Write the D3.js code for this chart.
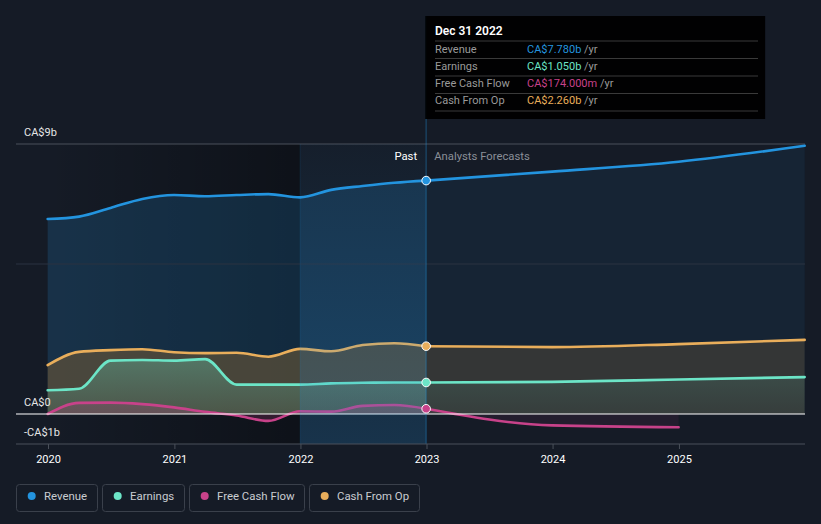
<!DOCTYPE html>
<html>
<head>
<meta charset="utf-8">
<script src="https://cdn.jsdelivr.net/npm/d3@7"></script>
<style>
  html, body { margin: 0; padding: 0; background: #151b26; }
  svg { display: block; font-family: Roboto, "Noto Sans", sans-serif; }
</style>
</head>
<body>
<svg id="chart" width="821" height="524"></svg>
<script>
// ---------- DATA ----------
const pastDates = ["2019-12-31","2020-03-31","2020-06-30","2020-09-30","2020-12-31","2021-03-31","2021-06-30","2021-09-30","2021-12-31","2022-03-31","2022-06-30","2022-09-30","2022-12-31"];
const revenuePast  = [6.50, 6.58, 6.87, 7.17, 7.30, 7.26, 7.30, 7.33, 7.22, 7.47, 7.60, 7.71, 7.78];
const earningsPast = [0.79, 0.84, 1.78, 1.80, 1.78, 1.83, 0.98, 0.98, 0.98, 1.02, 1.04, 1.05, 1.05];
const fcfPast      = [0.00, 0.37, 0.38, 0.33, 0.22, 0.07, -0.05, -0.23, 0.09, 0.08, 0.27, 0.30, 0.174];
const cfoPast      = [1.63, 2.07, 2.13, 2.16, 2.06, 2.03, 2.04, 1.91, 2.17, 2.09, 2.30, 2.36, 2.26];

const forecastDates = ["2022-12-31","2023-12-31","2024-12-31","2025-12-31"];
const revenueFc  = [7.78, 8.08, 8.41, 8.94];
const earningsFc = [1.05, 1.07, 1.15, 1.23];
const cfoFc      = [2.26, 2.23, 2.33, 2.47];
const fcfFc      = [0.174, -0.38, -0.44];

const seriesNames  = ["Revenue", "Earnings", "Free Cash Flow", "Cash From Op"];
const seriesColors = ["#2394df", "#6ce5c7", "#c8428a", "#e9ae5b"];
const tooltipDate  = "Dec 31 2022";
const tooltipValues = ["CA$7.780b", "CA$1.050b", "CA$174.000m", "CA$2.260b"];
const yLabelValues = [9, 0, -1];
const yLabels = ["CA$9b", "CA$0", "-CA$1b"];
const gridValues = [9, 5];
const xTickYears = [2020, 2021, 2022, 2023, 2024, 2025];

// ---------- SETUP ----------
const parse = d3.timeParse("%Y-%m-%d");
const svg = d3.select("#chart");
const x = d3.scaleTime().domain([new Date(2020,0,1), new Date(2026,0,1)]).range([48, 805]);
const y = d3.scaleLinear().domain([-1, 9]).range([444, 144]);
const xNow = x(parse("2022-12-31"));
const xHiStart = x(parse("2021-12-31"));

const mk = (dates, vals) => vals.map((v,i) => ({d: parse(dates[i]), v}));
const past = {
  rev: mk(pastDates, revenuePast), earn: mk(pastDates, earningsPast),
  fcf: mk(pastDates, fcfPast), cfo: mk(pastDates, cfoPast)
};
const fc = {
  rev: mk(forecastDates, revenueFc), earn: mk(forecastDates, earningsFc),
  fcf: mk(forecastDates, fcfFc), cfo: mk(forecastDates, cfoFc)
};

const defs = svg.append("defs");
const darkGrad = defs.append("linearGradient").attr("id","darkGrad").attr("x1",0).attr("x2",1).attr("y1",0).attr("y2",0);
darkGrad.append("stop").attr("offset",0).attr("stop-color","#000").attr("stop-opacity",0);
darkGrad.append("stop").attr("offset",1).attr("stop-color","#000").attr("stop-opacity",0.35);
const hiGrad = defs.append("linearGradient").attr("id","hiGrad").attr("x1",0).attr("x2",0).attr("y1",0).attr("y2",1);
hiGrad.append("stop").attr("offset",0).attr("stop-color","#2394df").attr("stop-opacity",0.03);
hiGrad.append("stop").attr("offset",1).attr("stop-color","#2394df").attr("stop-opacity",0.2);
function vGrad(id, color, top, bottom) {
  const g = defs.append("linearGradient").attr("id",id).attr("x1",0).attr("x2",0).attr("y1",0).attr("y2",1);
  g.append("stop").attr("offset",0).attr("stop-color",color).attr("stop-opacity",top);
  g.append("stop").attr("offset",1).attr("stop-color",color).attr("stop-opacity",bottom);
}
vGrad("earnPast", "#6ce5c7", 0.3, 0.1);
vGrad("earnFc", "#6ce5c7", 0.12, 0.04);

// background
svg.append("rect").attr("width",821).attr("height",524).attr("fill","#151b26");
svg.append("rect").attr("x",x(new Date(2020,0,1))).attr("y",y(9)).attr("width",xHiStart - x(new Date(2020,0,1))).attr("height",y(-1)-y(9)).attr("fill","url(#darkGrad)");

const curve = d3.curveMonotoneX;
const area = d3.area().x(d=>x(d.d)).y0(y(0)).y1(d=>y(d.v)).curve(curve);
const line = d3.line().x(d=>x(d.d)).y(d=>y(d.v)).curve(curve);

// areas
const gA = svg.append("g");
gA.append("path").datum(past.rev).attr("d",area).attr("fill","#2394df").attr("fill-opacity",0.19);
gA.append("path").datum(fc.rev).attr("d",area).attr("fill","#2394df").attr("fill-opacity",0.08);
gA.append("path").datum(past.cfo).attr("d",area).attr("fill","rgb(105,85,55)").attr("fill-opacity",0.62);
gA.append("path").datum(fc.cfo).attr("d",area).attr("fill","rgb(82,71,55)").attr("fill-opacity",0.5);
gA.append("path").datum(past.earn).attr("d",area).attr("fill","url(#earnPast)");
gA.append("path").datum(fc.earn).attr("d",area).attr("fill","url(#earnFc)");
gA.append("path").datum(past.fcf).attr("d",area).attr("fill","#c8428a").attr("fill-opacity",0.2);
gA.append("path").datum(fc.fcf).attr("d",area).attr("fill","#c8428a").attr("fill-opacity",0.08);

// grid lines
svg.append("g").selectAll("line").data(gridValues).join("line")
  .attr("x1",16).attr("x2",805).attr("y1",d=>y(d)).attr("y2",d=>y(d))
  .attr("stroke",(d,i)=> i===0 ? "#4a505a" : "#2a3340").attr("stroke-width",1);

// lines
const keys = ["rev","earn","fcf","cfo"];
const gL = svg.append("g").attr("fill","none").attr("stroke-width",2.6).attr("stroke-linecap","round");
keys.forEach((k,i) => {
  gL.append("path").datum(past[k]).attr("d",line).attr("stroke",seriesColors[i]);
  gL.append("path").datum(fc[k]).attr("d",line).attr("stroke",seriesColors[i]);
});

// zero line
svg.append("line").attr("x1",16).attr("x2",805).attr("y1",y(0)).attr("y2",y(0)).attr("stroke","#ffffff").attr("stroke-width",1.2);

// highlight of last past year
svg.append("rect").attr("x",xHiStart).attr("y",y(9)).attr("width",xNow - xHiStart).attr("height",y(-1)-y(9)).attr("fill","url(#hiGrad)");
svg.append("line").attr("x1",xHiStart).attr("x2",xHiStart).attr("y1",y(9)).attr("y2",y(-1)).attr("stroke","#2394df").attr("stroke-opacity",0.12);

// tooltip vertical line
svg.append("line").attr("x1",xNow).attr("x2",xNow).attr("y1",16).attr("y2",y(-1)).attr("stroke","#2394df").attr("stroke-opacity",0.3).attr("stroke-width",1.5);

// Past / Forecast labels
svg.append("text").attr("x",xNow-9).attr("y",160).attr("text-anchor","end").attr("fill","#ffffff").attr("font-size",11.3).text("Past");
svg.append("text").attr("x",xNow+8).attr("y",160).attr("fill","#8a8f98").attr("font-size",11.3).text("Analysts Forecasts");

// dots
const nowVals = [revenuePast, earningsPast, fcfPast, cfoPast].map(a => a[a.length-1]);
svg.append("g").selectAll("circle").data(nowVals).join("circle")
  .attr("cx",xNow).attr("cy",d=>y(d)).attr("r",4.3)
  .attr("fill",(d,i)=>seriesColors[i]).attr("stroke","#ffffff").attr("stroke-width",1);

// y labels
svg.append("g").selectAll("text").data(yLabelValues).join("text")
  .attr("x",24).attr("y",d=>y(d)-8).attr("fill","#e6e6e6").attr("font-size",11).text((d,i)=>yLabels[i]);

// x axis
const xAxis = d3.axisBottom(x).tickValues(xTickYears.map(yy=>new Date(yy,0,1))).tickFormat(d3.timeFormat("%Y")).tickSize(5).tickPadding(6);
const gx = svg.append("g").attr("transform",`translate(0,${y(-1)})`).call(xAxis);
gx.select(".domain").remove();
gx.selectAll(".tick line").attr("stroke","#4a505a");
gx.selectAll(".tick text").attr("fill","#ffffff").attr("font-size",11).attr("font-family","Roboto, sans-serif");
svg.append("line").attr("x1",16).attr("x2",805).attr("y1",y(-1)).attr("y2",y(-1)).attr("stroke","#4a505a");

// tooltip
const tt = svg.append("g");
tt.append("rect").attr("x",xNow-1).attr("y",16).attr("width",340).attr("height",103).attr("fill","#000000").attr("fill-opacity",0.95);
tt.append("text").attr("x",435).attr("y",35).attr("fill","#ffffff").attr("font-size",12).attr("font-weight",600).text(tooltipDate);
const rowY = [52.5, 69.5, 87, 104];
const sepY = [41, 58.5, 76, 93.5, 111];
tt.selectAll("line.sep").data(sepY).join("line").attr("class","sep")
  .attr("x1",435).attr("x2",758).attr("y1",d=>d).attr("y2",d=>d).attr("stroke","#3a3a3a");
seriesNames.forEach((n,i) => {
  tt.append("text").attr("x",435).attr("y",rowY[i]).attr("fill","#9a9a9a").attr("font-size",11).text(n);
  const t = tt.append("text").attr("x",527).attr("y",rowY[i]).attr("font-size",11);
  t.append("tspan").attr("fill",seriesColors[i]).text(tooltipValues[i]);
  t.append("tspan").attr("fill","#9a9a9a").text(" /yr");
});

// legend
const legendBoxes = [[16,81],[102,82],[189,115],[309,110]];
const lg = svg.append("g");
seriesNames.forEach((n,i) => {
  const [bx, bw] = legendBoxes[i];
  lg.append("rect").attr("x",bx+0.5).attr("y",484.5).attr("width",bw).attr("height",27).attr("rx",3)
    .attr("fill","none").attr("stroke","#3a404b");
  lg.append("circle").attr("cx",bx+15.7).attr("cy",496).attr("r",4).attr("fill",seriesColors[i]);
  lg.append("text").attr("x",bx+28).attr("y",500).attr("fill","#c9ccd1").attr("font-size",11.4).text(n);
});
</script>
</body>
</html>
